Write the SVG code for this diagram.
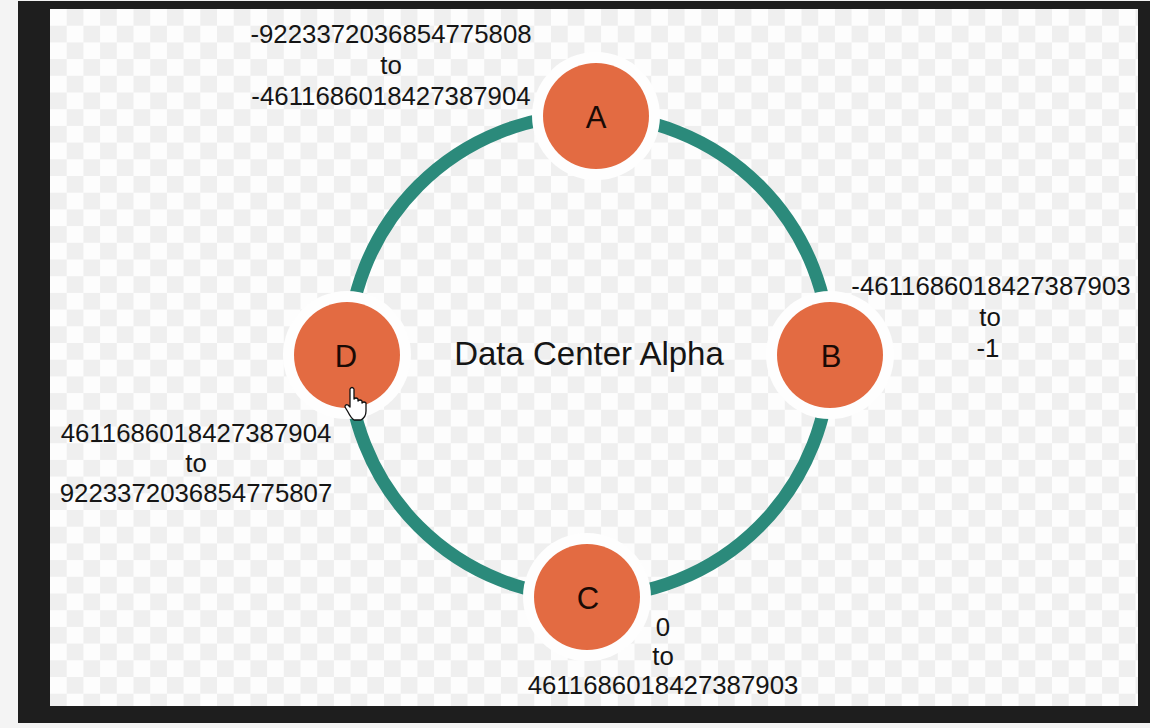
<svg xmlns="http://www.w3.org/2000/svg" width="1150" height="728" viewBox="0 0 1150 728">
<defs>
<pattern id="chk" x="50" y="9" width="33.4" height="33.4" patternUnits="userSpaceOnUse">
<rect width="33.4" height="33.4" fill="#fdfdfd"/>
<rect x="16.7" y="0" width="16.7" height="16.7" fill="#efefef"/>
<rect x="0" y="16.7" width="16.7" height="16.7" fill="#efefef"/>
</pattern>
<style>
.lbl{font-family:"Liberation Sans",Arial,sans-serif;font-size:25.8px;fill:#151515;text-anchor:middle}
.nd{font-family:"Liberation Sans",Arial,sans-serif;font-size:31px;fill:#1a0a05;text-anchor:middle}
.halo{fill:#fefefe}
.node{fill:#e36b42}
</style>
</defs>
<rect width="1150" height="728" fill="#f4f4f4"/>
<rect x="18" y="1" width="1132" height="722" fill="#1e1e1e"/>
<rect x="50" y="9" width="1088" height="697" fill="url(#chk)"/>
<g id="connectors">
<circle cx="589" cy="356" r="241" fill="none" stroke="#2b8a7b" stroke-width="13"/>
</g>
<g id="node-A">
<circle class="halo" cx="596" cy="116" r="64"/>
<circle class="node" cx="596" cy="116" r="53"/>
<text class="nd" x="596" y="128">A</text>
</g>
<g id="node-B">
<circle class="halo" cx="830" cy="355" r="64"/>
<circle class="node" cx="830" cy="355" r="53"/>
<text class="nd" x="831" y="367">B</text>
</g>
<g id="node-C">
<circle class="halo" cx="587" cy="597" r="64"/>
<circle class="node" cx="587" cy="597" r="53"/>
<text class="nd" x="588" y="609">C</text>
</g>
<g id="node-D">
<circle class="halo" cx="347" cy="355" r="64"/>
<circle class="node" cx="347" cy="355" r="53"/>
<text class="nd" x="346" y="367">D</text>
</g>
<g id="labels">
<text class="lbl" x="391" y="43">-9223372036854775808</text>
<text class="lbl" x="391" y="74">to</text>
<text class="lbl" x="391" y="105">-4611686018427387904</text>
<text class="lbl" x="991" y="295">-4611686018427387903</text>
<text class="lbl" x="990" y="326">to</text>
<text class="lbl" x="988" y="357">-1</text>
<text class="lbl" x="663" y="636">0</text>
<text class="lbl" x="663" y="665">to</text>
<text class="lbl" x="663" y="694">4611686018427387903</text>
<text class="lbl" x="196" y="442">4611686018427387904</text>
<text class="lbl" x="196" y="472">to</text>
<text class="lbl" x="196" y="502">9223372036854775807</text>
<text x="589" y="365" style="font-family:'Liberation Sans',Arial,sans-serif;font-size:33px;fill:#151515;text-anchor:middle">Data Center Alpha</text>
</g>
<path d="M350 389 q2 -3 4 0 v10 q2 -2 4 0 v2 q2 -2 4 0 v2 q2 -2 4 0 v8 q0 6 -5 9 h-7 q-3 -2 -6 -8 l-3 -5 q0 -3 3 -2 l2 2 z" fill="#fff" stroke="#111" stroke-width="1.3" stroke-linejoin="round"/>
</svg>
